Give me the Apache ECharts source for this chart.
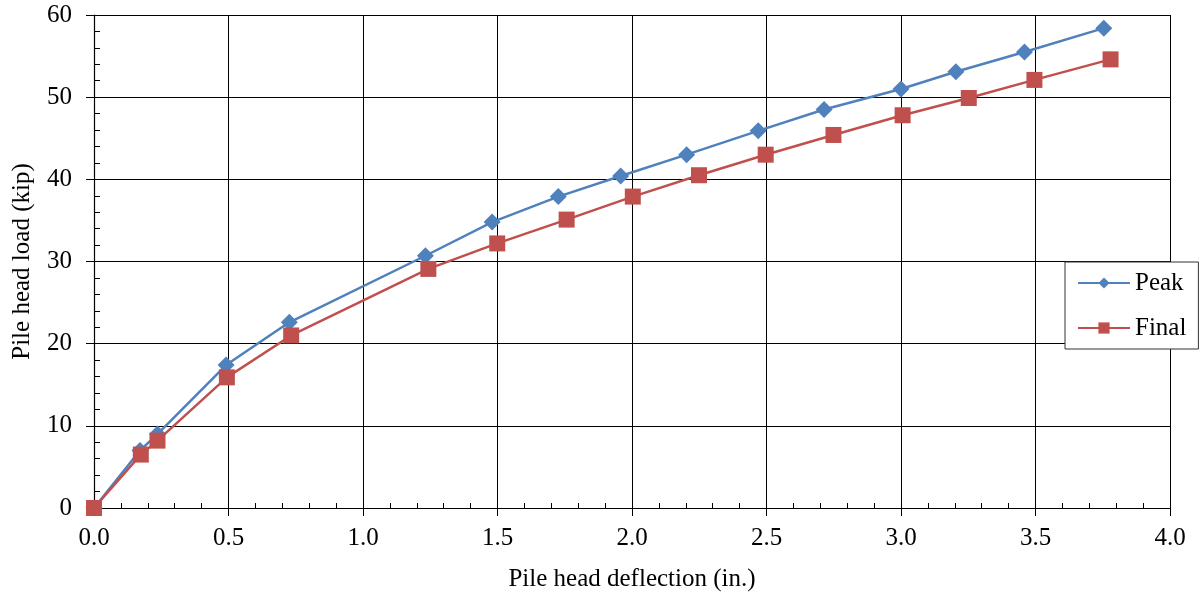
<!DOCTYPE html>
<html>
<head>
<meta charset="utf-8">
<script src="https://cdn.jsdelivr.net/npm/echarts@6/dist/echarts.min.js"></script>
<style>
html,body{margin:0;padding:0;background:#fff;}
#chart{width:1204px;height:599px;}
</style>
</head>
<body>
<div id="chart"></div>
<script>
const peakX = [0, 0.171, 0.236, 0.491, 0.726, 1.232, 1.48, 1.726, 1.958, 2.203, 2.469, 2.714, 3.0, 3.204, 3.459, 3.754];
const peakY = [0, 7.0, 9.0, 17.4, 22.6, 30.7, 34.8, 37.9, 40.4, 43.0, 45.9, 48.5, 51.0, 53.1, 55.5, 58.4];
const finalX = [0, 0.174, 0.236, 0.494, 0.733, 1.243, 1.499, 1.757, 2.003, 2.249, 2.497, 2.749, 3.006, 3.252, 3.496, 3.779];
const finalY = [0, 6.5, 8.2, 15.9, 21.0, 29.1, 32.2, 35.1, 37.9, 40.5, 43.0, 45.4, 47.8, 49.9, 52.1, 54.6];
const seriesNames = ['Peak', 'Final'];
const xTitle = 'Pile head deflection (in.)';
const yTitle = 'Pile head load (kip)';

const FONT = 'Liberation Serif';
const FS = 25;
const chart = echarts.init(document.getElementById('chart'));
const pair = (xs, ys) => xs.map((x, i) => [x, ys[i]]);

chart.setOption({
  animation: false,
  backgroundColor: '#fff',
  grid: { left: 94, right: 34, top: 15, bottom: 91 },
  legend: {
    orient: 'vertical',
    left: 1065, top: 262,
    padding: [7, 12, 7, 12],
    backgroundColor: '#fff',
    borderColor: '#333',
    borderWidth: 1,
    itemWidth: 52, itemHeight: 14,
    itemGap: 17,
    textStyle: { fontFamily: FONT, fontSize: FS, color: '#000', lineHeight: 28 },
    data: seriesNames
  },
  xAxis: [{
    type: 'value', min: 0, max: 4, interval: 0.5,
    name: xTitle, nameLocation: 'middle', nameGap: 59,
    nameTextStyle: { fontFamily: FONT, fontSize: FS, color: '#000' },
    axisLine: { lineStyle: { color: '#000', width: 1.2 } },
    axisTick: { show: true, length: 8, lineStyle: { color: '#000' } },
    axisLabel: { fontFamily: FONT, fontSize: FS, color: '#000', margin: 18, formatter: v => v.toFixed(1) },
    splitLine: { show: true, lineStyle: { color: '#000', width: 1 } }
  }, {
    type: 'value', min: 0, max: 4, interval: 0.1, position: 'bottom',
    axisLine: { show: false },
    axisTick: { show: true, inside: true, length: 5, lineStyle: { color: '#000' } },
    axisLabel: { show: false },
    splitLine: { show: false }
  }],
  yAxis: [{
    type: 'value', min: 0, max: 60, interval: 10,
    name: yTitle, nameLocation: 'middle', nameGap: 59, nameRotate: 90,
    nameTextStyle: { fontFamily: FONT, fontSize: FS, color: '#000' },
    axisLine: { show: true, lineStyle: { color: '#000', width: 1.2 } },
    axisTick: { show: true, length: 8, lineStyle: { color: '#000' } },
    axisLabel: { fontFamily: FONT, fontSize: FS, color: '#000', margin: 22 },
    splitLine: { show: true, lineStyle: { color: '#000', width: 1 } }
  }, {
    type: 'value', min: 0, max: 60, interval: 2, position: 'left',
    axisLine: { show: false },
    axisTick: { show: true, inside: true, length: 6, lineStyle: { color: '#000' } },
    axisLabel: { show: false },
    splitLine: { show: false }
  }],
  series: [{
    name: seriesNames[0], type: 'line',
    data: pair(peakX, peakY),
    symbol: 'diamond', symbolSize: 17,
    itemStyle: { color: '#4F81BD' },
    lineStyle: { color: '#4F81BD', width: 2.5 },
    z: 3
  }, {
    name: seriesNames[1], type: 'line',
    data: pair(finalX, finalY),
    symbol: 'rect', symbolSize: 16,
    itemStyle: { color: '#C0504D' },
    lineStyle: { color: '#C0504D', width: 2.5 },
    z: 4
  }]
});
</script>
</body>
</html>
